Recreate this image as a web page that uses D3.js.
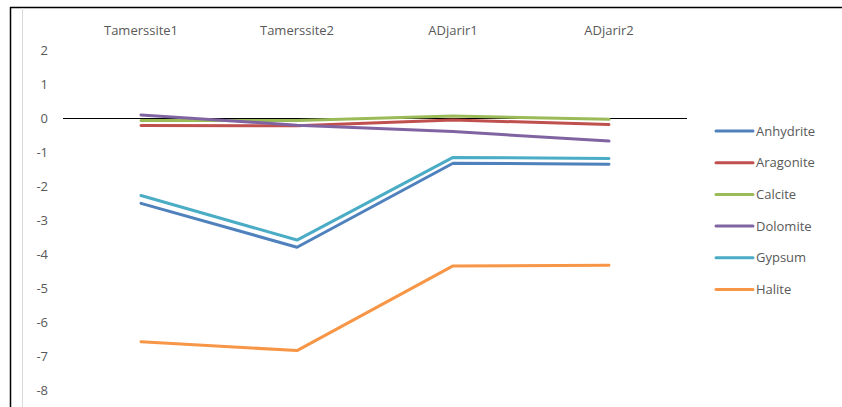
<!DOCTYPE html>
<html>
<head>
<meta charset="utf-8">
<script src="https://cdn.jsdelivr.net/npm/d3@7"></script>
<style>
  html, body { margin: 0; padding: 0; background: #fff; }
  svg { display: block; }
  text { font-family: "Open Sans", sans-serif; fill: #595959; }
</style>
</head>
<body>
<svg id="chart" width="842" height="407"></svg>
<script>
// Sampling sites along the category axis
const sites = ["Tamerssite1", "Tamerssite2", "ADjarir1", "ADjarir2"];

// Saturation index of each mineral at each site
const anhydrite = [-2.51, -3.80, -1.33, -1.36];
const aragonite = [-0.22, -0.23, -0.06, -0.19];
const calcite   = [-0.07, -0.07, 0.06, -0.04];
const dolomite  = [0.09, -0.21, -0.40, -0.68];
const gypsum    = [-2.28, -3.59, -1.16, -1.19];
const halite    = [-6.58, -6.84, -4.35, -4.33];

const mineralNames = ["Anhydrite", "Aragonite", "Calcite", "Dolomite", "Gypsum", "Halite"];
const mineralValues = [anhydrite, aragonite, calcite, dolomite, gypsum, halite];
const mineralColors = ["#4F81BD", "#C0504D", "#9BBB59", "#8064A2", "#4BACC6", "#F79646"];

const yTicks = [2, 1, 0, -1, -2, -3, -4, -5, -6, -7, -8];

const series = mineralNames.map((name, i) => ({ name, values: mineralValues[i], color: mineralColors[i] }));

const FONT = "'Open Sans', sans-serif";
const svg = d3.select("#chart");

// Outer chart frame
svg.append("rect")
  .attr("x", 10.5).attr("y", 7.5)
  .attr("width", 840).attr("height", 420)
  .attr("fill", "#fff").attr("stroke", "#000").attr("stroke-width", 1.5);
svg.append("line")
  .attr("x1", 22.5).attr("x2", 22.5).attr("y1", 8).attr("y2", 407)
  .attr("stroke", "#d9d9d9").attr("stroke-width", 1);

const plot = { left: 63, right: 687 };

const x = d3.scaleBand().domain(sites).range([plot.left, plot.right]);
const y = d3.scaleLinear().domain([-8, 2]).range([390, 50]);

// Value axis: labels only
const yAxis = d3.axisLeft(y).tickValues(yTicks).tickSize(0).tickPadding(0)
  .tickFormat(d => d3.format("d")(d).replace("−", "-"));
const yg = svg.append("g").attr("transform", "translate(48,0)").call(yAxis);
yg.select(".domain").remove();
yg.selectAll("text")
  .attr("font-size", 13)
  .style("font-family", FONT)
  .attr("fill", "#595959");

// Category axis crossing at zero, labels on top
const xAxis = d3.axisTop(x).tickSize(0).tickPadding(0);
const xg = svg.append("g").attr("transform", `translate(0,${y(0) + 0.5})`).call(xAxis);
xg.select(".domain").attr("stroke", "#000").attr("stroke-width", 1)
  .attr("d", `M${plot.left},0H${plot.right}`);
xg.selectAll("text")
  .attr("y", 30 - y(0))
  .attr("dy", "0.35em")
  .attr("font-size", 13)
  .style("font-family", FONT)
  .attr("fill", "#595959");

// Series lines
const line = d3.line()
  .x((d, i) => x(sites[i]) + x.bandwidth() / 2)
  .y(d => y(d));

svg.append("g").selectAll("path")
  .data(series)
  .join("path")
  .attr("d", d => line(d.values))
  .attr("fill", "none")
  .attr("stroke", d => d.color)
  .attr("stroke-width", 3)
  .attr("stroke-linejoin", "round")
  .attr("stroke-linecap", "round");

// Legend
const legend = svg.append("g").attr("transform", "translate(716,131)");
const item = legend.selectAll("g")
  .data(series)
  .join("g")
  .attr("transform", (d, i) => `translate(0,${i * 31.7})`);
item.append("line")
  .attr("x1", 0).attr("x2", 37).attr("y1", 0).attr("y2", 0)
  .attr("stroke", d => d.color).attr("stroke-width", 3).attr("stroke-linecap", "round");
item.append("text")
  .attr("x", 40).attr("y", 0).attr("dy", "0.35em")
  .attr("font-size", 13)
  .style("font-family", FONT)
  .text(d => d.name);
</script>
</body>
</html>
